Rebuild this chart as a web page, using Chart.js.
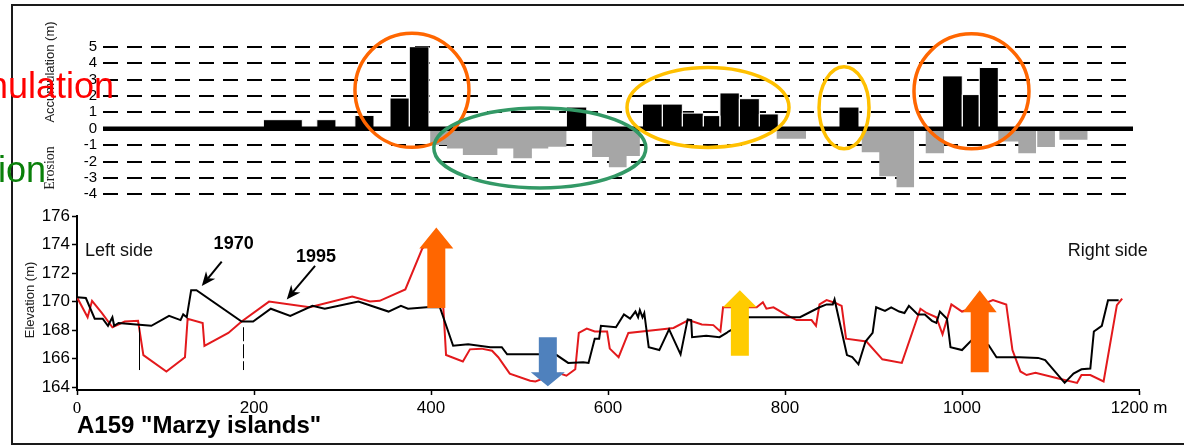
<!DOCTYPE html>
<html>
<head>
<meta charset="utf-8">
<script src="https://cdn.jsdelivr.net/npm/chart.js@4.4.1/dist/chart.umd.min.js"></script>
<style>
  html, body { margin: 0; padding: 0; background: #fff; }
  #wrap { position: relative; width: 1184px; height: 445px; overflow: hidden; background: #fff; }
  #frame { position: absolute; left: 11px; top: 4px; width: 1190px; height: 437px; border: 2px solid #1a1a1a; }
  canvas { position: absolute; left: 0; }
  #topChart { top: 0; }
  #profileChart { top: 200px; }
</style>
</head>
<body>
<div id="wrap">
  <div id="frame"></div>
  <canvas id="topChart" width="1184" height="210"></canvas>
  <canvas id="profileChart" width="1184" height="245"></canvas>
</div>
<script>
// accumulation bars (m along the reach, start / end, height in m)
const accStart = [211, 271, 314, 353.7, 375.5, 553, 639, 661.4, 684, 707.7, 726.5, 748.4, 771, 861, 978, 1000.3, 1019.5];
const accEnd   = [254.6, 292.6, 335.6, 375.5, 397.7, 576, 661.4, 684, 707.7, 726.5, 748.4, 771, 792.4, 883.6, 1000.3, 1019.5, 1041];
const accValue = [0.55, 0.55, 0.81, 1.87, 5.0, 1.32, 1.5, 1.5, 0.95, 0.8, 2.18, 1.83, 0.9, 1.32, 3.22, 2.08, 3.73];

// erosion bars
const eroStart = [399, 418, 436, 475, 493, 514, 532.5, 582, 601, 621, 790.6, 886.7, 906.5, 926, 959, 1041, 1063.6, 1085, 1110];
const eroEnd   = [418, 436, 475, 493, 514, 532.5, 553, 601, 621, 636, 823.7, 906.5, 926, 945.8, 979.7, 1063.6, 1083.6, 1105, 1142];
const eroValue = [-1.0, -1.2, -1.6, -1.2, -1.8, -1.2, -1.1, -1.73, -2.35, -1.67, -0.61, -1.43, -2.9, -3.57, -1.49, -0.78, -1.49, -1.12, -0.67];

// cross profiles
const dist1970 = [0, 10, 20, 29, 35, 40, 42, 47, 67, 84, 104, 117, 120, 124, 129, 135, 186, 199, 219, 241, 266, 280, 318, 352, 366, 374, 395, 410,
  425, 442, 467, 480, 486, 521, 542, 555, 572, 578, 585, 590, 592, 609, 618, 625, 631, 634, 636, 639, 641, 646, 658, 669, 682, 690, 694, 695,
  711, 726, 734, 736, 745, 755, 817, 839, 847, 854, 856, 870, 876, 883, 891, 899, 903, 913, 920, 929, 935, 940, 950, 958, 966, 971, 975, 983,
  987, 1000, 1011, 1030, 1039, 1065, 1086, 1094, 1116, 1126, 1135, 1145, 1149, 1158, 1165, 1177];
const elev1970 = [170.3, 170.25, 168.8, 168.8, 168.3, 168.9, 168.3, 168.5, 168.4, 168.3, 169.0, 168.7, 169.1, 168.9, 170.8, 170.8, 168.6, 168.6,
  169.5, 169.0, 169.7, 169.5, 170.0, 169.3, 169.7, 169.5, 169.6, 169.6,
  166.9, 167.0, 166.8, 166.8, 166.3, 166.3, 166.25, 165.7, 165.75, 165.7, 167.4, 167.4, 168.3, 168.2, 169.1, 168.8, 169.3, 168.9, 169.4, 168.9,
  169.2, 166.8, 166.6, 168.05, 166.3, 168.75, 168.7, 167.5,
  167.6, 167.5, 167.8, 167.9, 168.2, 168.9, 168.9, 169.6, 169.8, 169.8, 170.15, 166.25, 166.1, 165.6, 167.2, 167.8, 169.6, 169.35, 169.6, 169.3,
  169.2, 169.7, 169.1, 169.1, 168.65, 168.5, 169.3, 168.8,
  166.8, 166.6, 167.3, 166.95, 166.1, 166.1, 166.05, 165.9, 164.3, 164.95, 165.25, 165.3, 167.9, 168.3, 170.1, 170.1];

const dist1995 = [0, 12, 17, 28, 40, 54, 69, 75, 101, 122, 125, 142, 144, 171, 186, 217, 263, 311, 331, 342, 371, 390, 398, 414,
  417, 436, 444, 457, 469, 476, 489, 512, 518, 531, 546, 553, 563, 567, 576, 585, 599, 602, 612, 623, 659, 674, 691, 706, 719, 727,
  730, 750, 768, 775, 779, 787, 802, 813, 830, 835, 839, 847, 857, 864, 869, 892, 910, 932, 953, 960, 971, 978, 988, 1000, 1015,
  1035, 1050, 1057, 1066, 1073, 1083, 1109, 1130, 1135, 1145, 1160, 1175, 1181];
const elev1995 = [170.3, 168.9, 170.05, 169.2, 168.2, 168.6, 168.65, 166.25, 165.1, 166.1, 168.8, 168.5, 166.9, 167.8, 168.6, 170.0, 169.6,
  170.35, 170.0, 170.05, 170.85, 173.7, 174.2, 169.5,
  166.25, 165.8, 166.65, 166.7, 166.55, 166.1, 164.95, 164.45, 164.4, 164.7, 164.95, 164.8, 165.25, 167.8, 168.1, 167.9, 167.9, 166.7,
  166.1, 167.8, 168.05, 168.15, 168.7, 168.4, 168.35, 167.9,
  169.6, 169.6, 169.6, 169.95, 169.5, 169.6, 169.05, 168.7, 168.7, 168.3, 169.8, 170.1, 169.9, 169.7, 167.4, 167.2, 165.95, 165.7, 169.5,
  169.2, 168.9, 167.7, 169.8, 169.3, 169.6,
  170.1, 169.8, 166.6, 165.1, 164.85, 165.0, 164.6, 164.3, 164.85, 164.85, 164.4, 169.75, 170.2];

const accTicks = [-4, -3, -2, -1, 0, 1, 2, 3, 4, 5];
const elevTicks = [164, 166, 168, 170, 172, 174, 176];
const distTicks = [0, 200, 400, 600, 800, 1000, 1200];

const SANS = "'Liberation Sans', Arial, sans-serif";
const SERIF = "'Liberation Serif', 'Times New Roman', serif";
Chart.defaults.font.family = SANS;
Chart.defaults.color = '#000';

// stepped outline of a set of bars: value held from start to end, then back to 0
function barSteps(starts, ends, values) {
  const pts = [];
  starts.forEach((s, i) => {
    pts.push({ x: s, y: values[i] });
    pts.push({ x: ends[i], y: 0 });
  });
  return pts;
}

// circled zones on the bar chart
const zones = [
  { x: 378.5, y: 2.34, rx: 57, ry: 57, color: '#ff6600' },
  { x: 523, y: -1.17, rx: 106, ry: 40, color: '#339966' },
  { x: 713, y: 1.3, rx: 81, ry: 40, color: '#ffc000' },
  { x: 866.7, y: 1.27, rx: 25, ry: 41, color: '#ffc000' },
  { x: 1010.7, y: 2.28, rx: 57.5, ry: 57.5, color: '#ff6600' }
];

const topDecor = {
  id: 'topDecor',
  afterDraw(chart) {
    const { ctx, scales: { x, y } } = chart;
    ctx.save();
    ctx.lineWidth = 3.5;
    zones.forEach(z => {
      ctx.strokeStyle = z.color;
      ctx.beginPath();
      ctx.ellipse(x.getPixelForValue(z.x), y.getPixelForValue(z.y), z.rx, z.ry, 0, 0, Math.PI * 2);
      ctx.stroke();
    });

    // rotated axis labels
    ctx.fillStyle = '#222';
    ctx.textAlign = 'center';
    ctx.textBaseline = 'middle';
    ctx.save();
    ctx.translate(50, 72);
    ctx.rotate(-Math.PI / 2);
    ctx.font = '13px ' + SANS;
    ctx.fillText('Accumulation (m)', 0, 0);
    ctx.restore();
    ctx.save();
    ctx.translate(50, 168);
    ctx.rotate(-Math.PI / 2);
    ctx.font = '14px ' + SERIF;
    ctx.fillText('Erosion', 0, 0);
    ctx.restore();

    // big clipped words on the left
    ctx.textAlign = 'right';
    ctx.textBaseline = 'alphabetic';
    ctx.font = '36px ' + SANS;
    ctx.fillStyle = '#ff0000';
    ctx.fillText('Accumulation', 114, 98);
    ctx.fillStyle = '#0a800a';
    ctx.fillText('Erosion', 46, 182);
    ctx.restore();
  }
};

new Chart(document.getElementById('topChart'), {
  type: 'line',
  data: {
    datasets: [
      {
        label: 'zero',
        data: [{ x: 29.4, y: 0 }, { x: 1193.2, y: 0 }],
        borderColor: '#000',
        borderWidth: 4.5,
        pointRadius: 0,
        fill: false
      },
      {
        label: 'Accumulation',
        data: barSteps(accStart, accEnd, accValue),
        stepped: true,
        borderColor: '#fff',
        borderWidth: 1,
        backgroundColor: '#000',
        pointRadius: 0,
        fill: 'origin'
      },
      {
        label: 'Erosion',
        data: barSteps(eroStart, eroEnd, eroValue),
        stepped: true,
        borderWidth: 0,
        borderColor: 'rgba(0,0,0,0)',
        backgroundColor: '#a6a6a6',
        pointRadius: 0,
        fill: 'origin'
      }
    ]
  },
  options: {
    responsive: false,
    animation: false,
    layout: { padding: { left: 0, right: 51, top: 46.7, bottom: 15.7 } },
    plugins: { legend: { display: false }, tooltip: { enabled: false } },
    scales: {
      x: { type: 'linear', min: 29.4, max: 1193.2, display: false },
      y: {
        min: -4,
        max: 5,
        afterBuildTicks(s) { s.ticks = accTicks.map(v => ({ value: v })); },
        afterFit(s) { s.width = 103; },
        ticks: { font: { size: 15 }, color: '#000', padding: 6, autoSkip: false },
        grid: { color: '#000', lineWidth: c => (c.tick && c.tick.value === 0 ? 0 : 2), drawTicks: false },
        border: { display: false, dash: [15, 9] }
      }
    }
  },
  plugins: [topDecor]
});

// block arrows on the profile (position in metres, tail/tip in elevation)
const bigArrows = [
  { x: 406, from: 169.55, to: 175.2, head: 21, color: '#ff6600' },
  { x: 532, from: 167.5, to: 164.07, head: 14, color: '#4f81bd' },
  { x: 749, from: 166.2, to: 170.8, head: 17, color: '#ffcc00' },
  { x: 1020, from: 165.05, to: 170.8, head: 22, color: '#ff6600' }
];
const pointers = [
  { label: '1970', lx: 177, ly: 173.7, x1: 163.5, y1: 172.8, x2: 141, y2: 171.1 },
  { label: '1995', lx: 270, ly: 172.8, x1: 269, y1: 172.5, x2: 237, y2: 170.15 }
];
const markers = [
  { x: 70.4, from: 168.2, to: 165.2, dash: [] },
  { x: 188, from: 168.2, to: 165.2, dash: [14, 3] }
];

function blockArrow(ctx, cx, yTail, yTip, head, color) {
  const dir = yTip < yTail ? -1 : 1;
  const sw = 9, hw = 17;
  const yBase = yTip - dir * head;
  ctx.fillStyle = color;
  ctx.beginPath();
  ctx.moveTo(cx - sw, yTail);
  ctx.lineTo(cx - sw, yBase);
  ctx.lineTo(cx - hw, yBase);
  ctx.lineTo(cx, yTip);
  ctx.lineTo(cx + hw, yBase);
  ctx.lineTo(cx + sw, yBase);
  ctx.lineTo(cx + sw, yTail);
  ctx.closePath();
  ctx.fill();
}

function pointer(ctx, x1, y1, x2, y2) {
  const a = Math.atan2(y2 - y1, x2 - x1), L = 14, W = 6;
  const c = Math.cos(a), s = Math.sin(a);
  ctx.strokeStyle = '#000';
  ctx.lineWidth = 2;
  ctx.beginPath();
  ctx.moveTo(x1, y1);
  ctx.lineTo(x2 - c * L * 0.7, y2 - s * L * 0.7);
  ctx.stroke();
  ctx.fillStyle = '#000';
  ctx.beginPath();
  ctx.moveTo(x2, y2);
  ctx.lineTo(x2 - L * c + W * s, y2 - L * s - W * c);
  ctx.lineTo(x2 - L * 0.7 * c, y2 - L * 0.7 * s);
  ctx.lineTo(x2 - L * c - W * s, y2 - L * s + W * c);
  ctx.closePath();
  ctx.fill();
}

const profileDecor = {
  id: 'profileDecor',
  afterDatasetsDraw(chart) {
    const { ctx, scales: { x, y }, chartArea } = chart;
    ctx.save();

    markers.forEach(m => {
      ctx.strokeStyle = '#000';
      ctx.lineWidth = 1;
      ctx.setLineDash(m.dash);
      ctx.beginPath();
      const px = Math.round(x.getPixelForValue(m.x)) + 0.5;
      ctx.moveTo(px, y.getPixelForValue(m.from));
      ctx.lineTo(px, y.getPixelForValue(m.to));
      ctx.stroke();
    });
    ctx.setLineDash([]);

    bigArrows.forEach(a => {
      blockArrow(ctx, x.getPixelForValue(a.x), y.getPixelForValue(a.from), y.getPixelForValue(a.to), a.head, a.color);
    });

    ctx.fillStyle = '#000';
    ctx.font = 'bold 18px ' + SANS;
    ctx.textAlign = 'center';
    ctx.textBaseline = 'alphabetic';
    pointers.forEach(p => {
      pointer(ctx, x.getPixelForValue(p.x1), y.getPixelForValue(p.y1), x.getPixelForValue(p.x2), y.getPixelForValue(p.y2));
      ctx.fillText(p.label, x.getPixelForValue(p.lx), y.getPixelForValue(p.ly));
    });

    ctx.font = '18px ' + SANS;
    ctx.fillStyle = '#111';
    ctx.textAlign = 'left';
    ctx.fillText('Left side', x.getPixelForValue(9), y.getPixelForValue(173.2));
    ctx.textAlign = 'right';
    ctx.fillText('Right side', x.getPixelForValue(1210), y.getPixelForValue(173.2));

    ctx.textAlign = 'left';
    ctx.fillStyle = '#000';
    ctx.font = 'bold 24px ' + SANS;
    ctx.fillText('A159 "Marzy islands"', chartArea.left, 233);

    ctx.save();
    ctx.translate(30, 100);
    ctx.rotate(-Math.PI / 2);
    ctx.textAlign = 'center';
    ctx.textBaseline = 'middle';
    ctx.font = '13px ' + SANS;
    ctx.fillStyle = '#222';
    ctx.fillText('Elevation (m)', 0, 0);
    ctx.restore();

    ctx.restore();
  }
};

new Chart(document.getElementById('profileChart'), {
  type: 'line',
  data: {
    datasets: [
      {
        label: '1970',
        data: dist1970.map((d, i) => ({ x: d, y: elev1970[i] })),
        borderColor: '#000',
        borderWidth: 2,
        pointRadius: 0,
        tension: 0
      },
      {
        label: '1995',
        data: dist1995.map((d, i) => ({ x: d, y: elev1995[i] })),
        borderColor: '#e3191c',
        borderWidth: 2,
        pointRadius: 0,
        tension: 0
      }
    ]
  },
  options: {
    responsive: false,
    animation: false,
    layout: { padding: { left: 0, right: 45, top: 16, bottom: 25 } },
    plugins: { legend: { display: false }, tooltip: { enabled: false } },
    scales: {
      x: {
        type: 'linear',
        min: 0,
        max: 1200,
        afterBuildTicks(s) { s.ticks = distTicks.map(v => ({ value: v })); },
        afterFit(s) { s.height = 30; },
        ticks: {
          callback: v => (v === 1200 ? '1200 m' : v),
          font: c => (c.tick && c.tick.value === 0 ? { family: SERIF, size: 17 } : { family: SANS, size: 17 }),
          color: '#000',
          padding: 3,
          maxRotation: 0,
          autoSkip: false
        },
        grid: { drawOnChartArea: false, drawTicks: true, tickLength: 5, tickColor: '#000', tickWidth: 1.5 },
        border: { color: '#000', width: 2 }
      },
      y: {
        min: 163.8,
        max: 176,
        afterBuildTicks(s) { s.ticks = elevTicks.map(v => ({ value: v })); },
        afterFit(s) { s.width = 77; },
        ticks: { font: { size: 17 }, color: '#000', padding: 2, autoSkip: false },
        grid: { drawOnChartArea: false, drawTicks: true, tickLength: 5, tickColor: '#000', tickWidth: 1.5 },
        border: { color: '#000', width: 2 }
      }
    }
  },
  plugins: [profileDecor]
});
</script>
</body>
</html>
